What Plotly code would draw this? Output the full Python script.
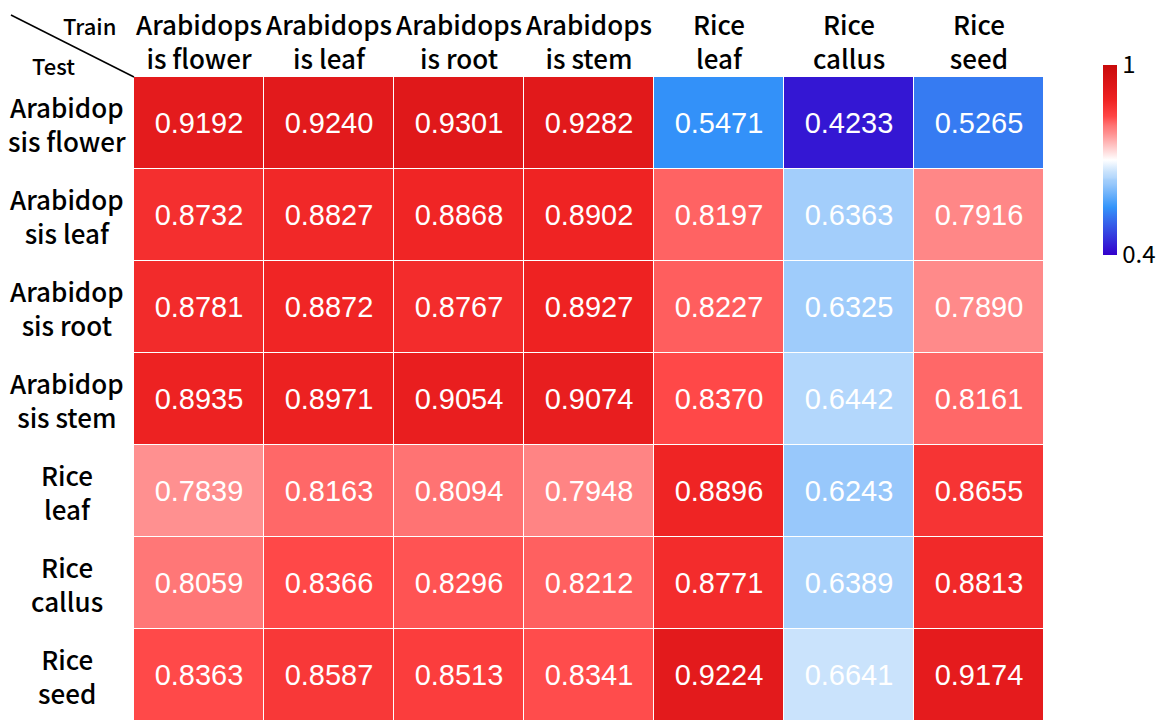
import plotly.graph_objects as go

# Training tissues (columns) and test tissues (rows)
train_labels = ["Arabidops<br>is flower", "Arabidops<br>is leaf", "Arabidops<br>is root",
                "Arabidops<br>is stem", "Rice<br>leaf", "Rice<br>callus", "Rice<br>seed"]
test_labels = ["Arabidop<br>sis flower", "Arabidop<br>sis leaf", "Arabidop<br>sis root",
               "Arabidop<br>sis stem", "Rice<br>leaf", "Rice<br>callus", "Rice<br>seed"]

row_af = [0.9192, 0.9240, 0.9301, 0.9282, 0.5471, 0.4233, 0.5265]
row_al = [0.8732, 0.8827, 0.8868, 0.8902, 0.8197, 0.6363, 0.7916]
row_ar = [0.8781, 0.8872, 0.8767, 0.8927, 0.8227, 0.6325, 0.7890]
row_as = [0.8935, 0.8971, 0.9054, 0.9074, 0.8370, 0.6442, 0.8161]
row_rl = [0.7839, 0.8163, 0.8094, 0.7948, 0.8896, 0.6243, 0.8655]
row_rc = [0.8059, 0.8366, 0.8296, 0.8212, 0.8771, 0.6389, 0.8813]
row_rs = [0.8363, 0.8587, 0.8513, 0.8341, 0.9224, 0.6641, 0.9174]

z = [row_af, row_al, row_ar, row_as, row_rl, row_rc, row_rs]

zmin, zmax = 0.4, 1.0
colorscale = [
    [0.000, "#3300cc"],
    [0.210, "#367af2"],
    [0.250, "#3394fa"],
    [0.374, "#98c8fb"],
    [0.394, "#a3cefb"],
    [0.407, "#b3d7fc"],
    [0.440, "#cae3fc"],
    [0.500, "#ffffff"],
    [0.640, "#ff9090"],
    [0.680, "#ff7575"],
    [0.730, "#ff4646"],
    [0.820, "#ee2222"],
    [0.870, "#e31a1c"],
    [1.000, "#c80a0a"],
]

label_font = dict(family="Noto Sans CJK SC", size=26, color="#000000", weight=500)
corner_font = dict(family="Noto Sans CJK SC", size=22, color="#000000", weight=500)

fig = go.Figure(go.Heatmap(
    z=z,
    x=train_labels,
    y=test_labels,
    zmin=zmin,
    zmax=zmax,
    colorscale=colorscale,
    xgap=1,
    ygap=1,
    texttemplate="%{z:.4f}",
    textfont=dict(family="Liberation Sans, Arial", size=29, color="white"),
    colorbar=dict(
        x=1.0648, xanchor="left", xpad=0,
        y=1.0186, yanchor="top", ypad=0,
        len=190, lenmode="pixels",
        thickness=14,
        outlinewidth=0,
        tickvals=[0.4, 1.0],
        ticktext=["0.4", "1"],
        ticks="",
        tickfont=dict(family="Noto Sans CJK SC", size=24, color="#000000"),
    ),
    hoverinfo="skip",
))

fig.update_xaxes(side="top", showgrid=False, zeroline=False, tickfont=label_font,
                 ticks="", ticklabelstandoff=2)
fig.update_yaxes(autorange="reversed", showgrid=False, zeroline=False,
                 showticklabels=False, ticks="")

# Row labels, centred in the left margin
for lab in test_labels:
    fig.add_annotation(x=-0.0736, xref="paper", y=lab, yref="y", text=lab,
                       showarrow=False, align="center", font=label_font,
                       xanchor="center", yanchor="middle")

# Corner header: diagonal divider with "Train" / "Test"
fig.add_shape(type="line", xref="paper", yref="paper",
              x0=-0.1352, y0=1.0963, x1=0.0, y1=1.0,
              line=dict(color="black", width=1.5))
fig.add_annotation(x=-0.0484, y=1.0807, xref="paper", yref="paper", text="Train",
                   showarrow=False, font=corner_font,
                   xanchor="center", yanchor="middle")
fig.add_annotation(x=-0.089, y=1.0186, xref="paper", yref="paper", text="Test",
                   showarrow=False, font=corner_font,
                   xanchor="center", yanchor="middle")

fig.update_layout(
    width=1167, height=721,
    margin=dict(l=134, r=123, t=77, b=0),
    paper_bgcolor="white",
    plot_bgcolor="white",
)

fig.write_html("out.html")
